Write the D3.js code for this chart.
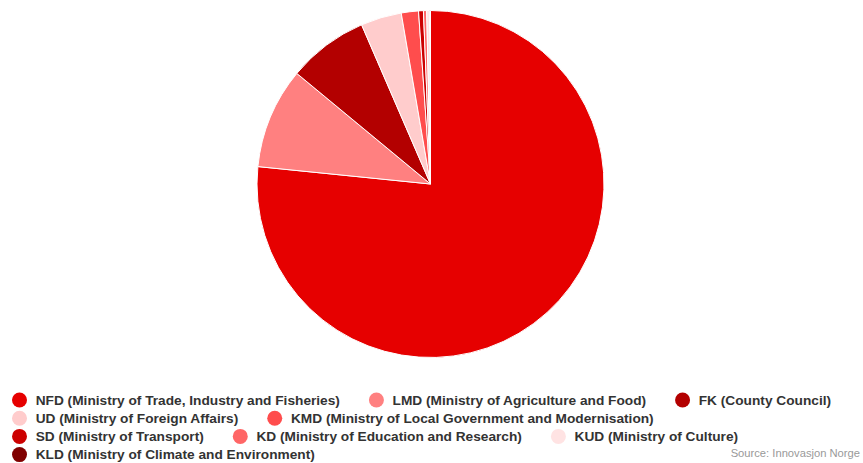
<!DOCTYPE html>
<html>
<head>
<meta charset="utf-8">
<script src="https://cdn.jsdelivr.net/npm/d3@7"></script>
<style>
  html, body { margin: 0; padding: 0; background: #fff; }
  svg { display: block; font-family: "Liberation Sans", Arial, sans-serif; }
</style>
</head>
<body>
<svg id="chart" width="863" height="463"></svg>
<script>
// Funding sources (share of total, %)
const categories = [
  "NFD (Ministry of Trade, Industry and Fisheries)",
  "LMD (Ministry of Agriculture and Food)",
  "FK (County Council)",
  "UD (Ministry of Foreign Affairs)",
  "KMD (Ministry of Local Government and Modernisation)",
  "SD (Ministry of Transport)",
  "KD (Ministry of Education and Research)",
  "KUD (Ministry of Culture)",
  "KLD (Ministry of Climate and Environment)"
];
const values = [76.6, 9.4, 7.5, 3.8, 1.6, 0.45, 0.3, 0.25, 0.1];
const colors = ["#e60000", "#ff8080", "#b30000", "#ffcccc", "#ff4d4d",
                "#cc0000", "#ff6666", "#ffe3e3", "#800000"];
const sourceText = "Source: Innovasjon Norge";

const svg = d3.select("#chart");
const data = categories.map((c, i) => ({ name: c, value: values[i], color: colors[i] }));

// Pie, starting at 12 o'clock and running clockwise
const cx = 430.5, cy = 184, radius = 173.5;
const pie = d3.pie().value(d => d.value).sort(null);
const arc = d3.arc().innerRadius(0).outerRadius(radius);

svg.append("g")
  .attr("transform", `translate(${cx},${cy})`)
  .selectAll("path")
  .data(pie(data))
  .join("path")
  .attr("d", arc)
  .attr("fill", d => d.data.color)
  .attr("stroke", "#fff")
  .attr("stroke-width", 1)
  .attr("stroke-linejoin", "round");

// Legend: items flow left to right, wrapping into rows
const legend = svg.append("g");
const rowY = [400, 418.2, 436.4, 454.6];
const r = 7.5, startX = 12, textOff = 23.7, gap = 29, maxX = 850;
let x = startX, row = 0;
data.forEach(d => {
  const g = legend.append("g");
  const t = g.append("text")
    .attr("y", 0)
    .attr("dy", "0.35em")
    .attr("font-size", 13.7)
    .attr("font-weight", "bold")
    .attr("fill", "#333")
    .text(d.name);
  const w = t.node().getComputedTextLength();
  if (x + textOff + w > maxX && x > startX) { x = startX; row += 1; }
  g.attr("transform", `translate(${x},${rowY[row]})`);
  g.insert("circle", "text").attr("cx", r).attr("cy", 0).attr("r", r).attr("fill", d.color);
  t.attr("x", textOff);
  x += textOff + w + gap;
});

svg.append("text")
  .attr("x", 860)
  .attr("y", 457)
  .attr("text-anchor", "end")
  .attr("font-size", 11.2)
  .attr("fill", "#999")
  .text(sourceText);
</script>
</body>
</html>
